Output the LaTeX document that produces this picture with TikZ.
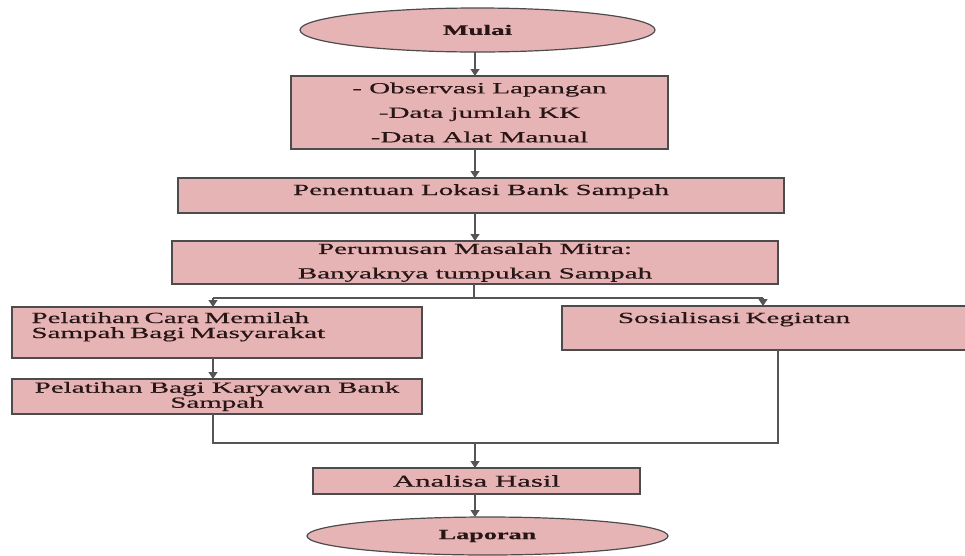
\documentclass[tikz,border=0pt]{standalone}
\usepackage{fontspec}
\usetikzlibrary{shapes.geometric,arrows.meta}
\newfontfamily\flowfont{Liberation Serif}[FakeStretch=1.87,FakeBold=0.6]
\definecolor{isikotak}{RGB}{231,180,182}
\definecolor{warnagaris}{RGB}{85,85,85}
\definecolor{tulisan}{RGB}{40,22,22}
\newcommand{\teks}{\flowfont\fontsize{15.5}{24.5}\selectfont}
\newcommand{\rapat}{\flowfont\fontsize{15.5}{15}\selectfont}

\tikzset{
  kotak/.style={draw=black!70, line width=1.2pt, fill=isikotak, text=tulisan,
    inner sep=0pt, outer sep=0pt, font=\teks, align=center},
  ujung/.style={kotak, ellipse, font=\flowfont\bfseries\fontsize{14.5}{16}\selectfont},
  sambung/.style={draw=warnagaris, line width=1.2pt},
  panah/.style={sambung, -{Triangle[length=7pt,width=9pt]}}
}

\begin{document}
\begin{tikzpicture}[x=1pt,y=-1pt]
        \useasboundingbox (0,0) rectangle (965,555);

        \node[ujung, minimum width=355pt, minimum height=44pt] (mulai) at (477.5,30) {Mulai};
        \node[kotak, minimum width=377pt, minimum height=73pt] (observasi) at (479.5,112.5)
            {- Observasi Lapangan\\-Data jumlah KK\\-Data Alat Manual};
        \node[kotak, minimum width=606pt, minimum height=35pt, text height=17pt, text depth=18pt]
            (lokasi) at (481,195.5) {Penentuan Lokasi Bank Sampah};
        \node[kotak, minimum width=606pt, minimum height=43pt] (rumusan) at (475,262.5)
            {Perumusan Masalah Mitra:\\Banyaknya tumpukan Sampah};

        % kiri
        \node[kotak, font=\rapat, text width=371pt, align=left, minimum width=410pt,
            minimum height=51pt, text height=16pt, text depth=35pt] (memilah) at (217,332.5)
            {Pelatihan Cara Memilah\\Sampah Bagi Masyarakat};
        \node[kotak, font=\rapat, minimum width=410pt, minimum height=35pt] (karyawan) at (217,396.5)
            {Pelatihan Bagi Karyawan Bank\\Sampah};

        % kanan
        \node[kotak, text width=294pt, align=left, minimum width=406pt, minimum height=44pt,
            text height=17pt, text depth=27pt] (sosial) at (765,328) {Sosialisasi Kegiatan};

        \node[kotak, font=\flowfont\fontsize{16.5}{18}\selectfont, minimum width=327pt,
            minimum height=26pt] (analisa) at (476.5,481) {Analisa Hasil};
        \node[ujung, minimum width=361pt, minimum height=38pt, font=\flowfont\bfseries\fontsize{14}{16}\selectfont]
            (laporan) at (487.5,536) {Laporan};

        \coordinate (poros) at (475,0);
        \coordinate (cabang) at (474,298);
        \coordinate (kiri) at (213,298);
        \coordinate (kanan) at (763,298);
        \coordinate (gabung) at (778,443);

        \draw[panah] (poros |- mulai.south) -- (poros |- observasi.north);
        \draw[panah] (poros |- observasi.south) -- (poros |- lokasi.north);
        \draw[panah] (poros |- lokasi.south) -- (poros |- rumusan.north);

        % cabang
        \draw[sambung] (rumusan.south -| cabang) -- (cabang);
        \draw[sambung] (kiri) -- (kanan);
        \draw[panah] (kiri) -- (kiri |- memilah.north);
        \draw[panah] (kanan) -- (kanan |- sosial.north);
        \draw[panah] (kiri |- memilah.south) -- (kiri |- karyawan.north);

        % gabung
        \draw[sambung] (kiri |- karyawan.south) |- (gabung) -- (gabung |- sosial.south);
        \draw[panah] (poros |- gabung) -- (poros |- analisa.north);
        \draw[panah] (poros |- analisa.south) -- (poros |- laporan.north);
\end{tikzpicture}
\end{document}
